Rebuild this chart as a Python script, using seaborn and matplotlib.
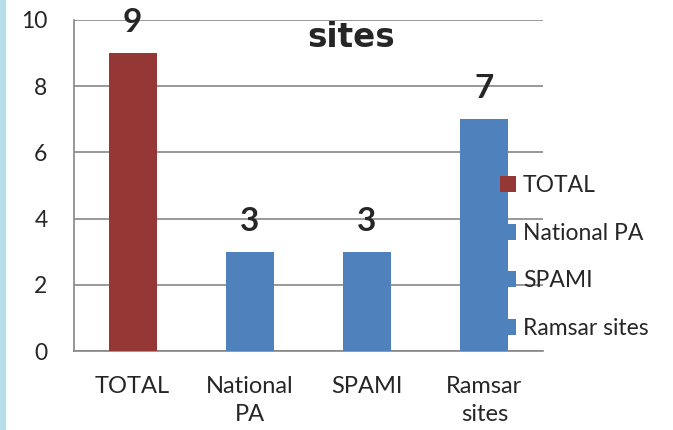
import pandas as pd
import seaborn as sns
from matplotlib import pyplot as plt
from matplotlib.patches import Rectangle

categories = ['TOTAL', 'National PA', 'SPAMI', 'Ramsar sites']
tick_labels = ['TOTAL', 'National\nPA', 'SPAMI', 'Ramsar\nsites']
values = [9, 3, 3, 7]
colors = ['#953735', '#4F81BD', '#4F81BD', '#4F81BD']

sns.set_style('white')
plt.rcParams['font.family'] = ['Lato', 'DejaVu Sans']

data = pd.DataFrame({'category': categories, 'value': values})

fig = plt.figure(figsize=(6.73, 4.30), dpi=100)
ax = fig.add_axes([74 / 673, 1 - 351 / 430, (543 - 74) / 673, (351 - 20) / 430])

# light blue strip on the left edge
fig.patches.append(Rectangle((0, 0), 5 / 673, 1, transform=fig.transFigure,
                             color='#B7DDE8', zorder=0))

sns.barplot(data=data, x='category', y='value', hue='category',
            palette=dict(zip(categories, colors)), dodge=False,
            width=0.41, saturation=1, linewidth=0, legend=True, ax=ax, zorder=3)

ax.set_ylim(0, 10)
ax.set_xlim(-0.5, 3.5)
ax.set_yticks(range(0, 11, 2))
ax.yaxis.grid(True, color='#868686', linewidth=1.2, zorder=0)
ax.set_axisbelow(True)

# category boundaries as major ticks, labels on minor ticks
ax.set_xticks([-0.5, 0.5, 1.5, 2.5, 3.5])
ax.set_xticklabels([])
ax.set_xticks(range(len(categories)), minor=True)
ax.set_xticklabels(tick_labels, minor=True, linespacing=1.4)
ax.tick_params(axis='x', which='major', length=7, width=1.2, color='#868686', direction='out')
ax.tick_params(axis='x', which='minor', length=0, pad=18, labelsize=17)
ax.tick_params(axis='y', length=6, width=1.2, color='#868686', direction='out',
               pad=13, labelsize=16.5)
ax.set_xlabel('')
ax.set_ylabel('')

for side in ['top', 'right']:
    ax.spines[side].set_visible(False)
for side in ['left', 'bottom']:
    ax.spines[side].set_color('#868686')
    ax.spines[side].set_linewidth(1.2)

for i, v in enumerate(values):
    ax.annotate(str(v), (i, v), xytext=(0, 15), textcoords='offset points',
                ha='center', va='baseline', fontsize=24, fontweight='bold')

fig.text(351 / 673, 1 - 47 / 430, 'sites', ha='center', va='baseline',
         fontsize=23.5, fontweight='bold', family='DejaVu Sans')

leg = ax.legend(loc='center left', bbox_to_anchor=(500 / 673, 1 - 257 / 430),
                bbox_transform=fig.transFigure, frameon=False, fontsize=16.5,
                borderpad=0, borderaxespad=0, handlelength=0.7, handleheight=0.7,
                handletextpad=0.3, labelspacing=1.17)
for h in leg.legend_handles:
    h.set_linewidth(0)

fig.savefig('out.png', dpi=100)
